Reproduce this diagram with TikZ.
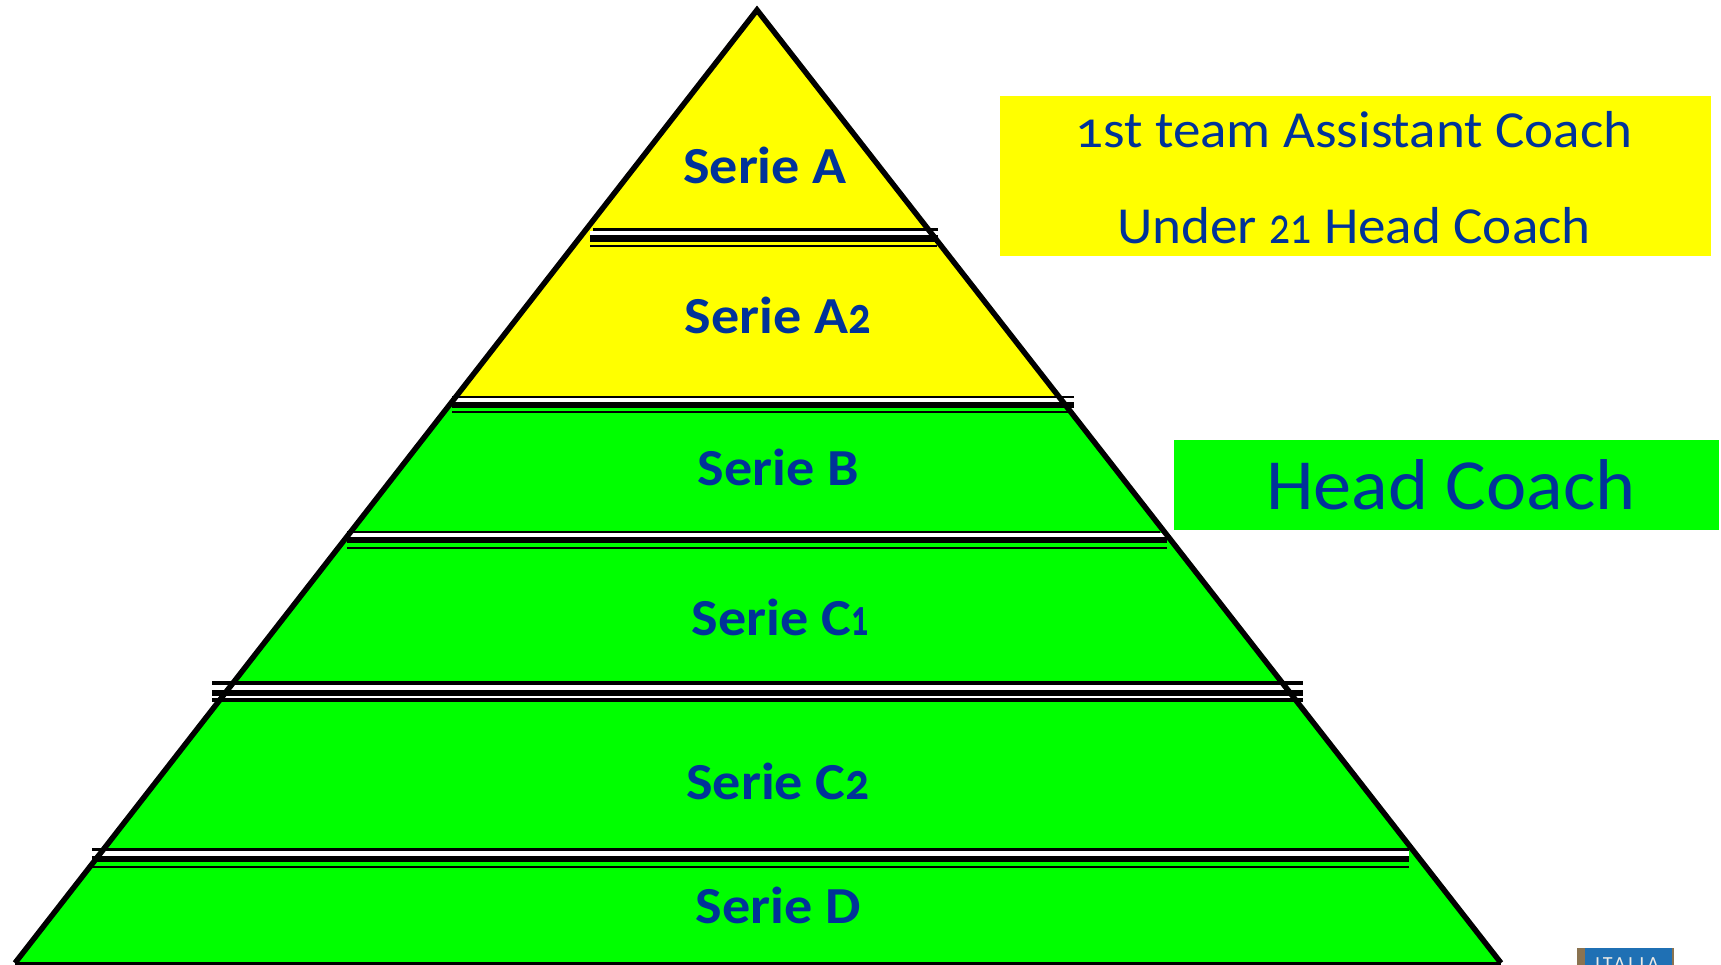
\documentclass[tikz,border=0pt]{standalone}
\usepackage{fontspec}
\setmainfont[Numbers=OldStyle]{Carlito}
\newfontfamily\seriefont[Numbers=OldStyle,FakeStretch=1.08]{Carlito}
\newfontfamily\rolefont[Numbers=OldStyle,FakeStretch=1.06]{Carlito}
\newfontfamily\signfont[LetterSpace=14]{Carlito}
\definecolor{tblue}{HTML}{003399}
\definecolor{pyellow}{HTML}{FFFF00}
\definecolor{pgreen}{HTML}{00FF00}
\definecolor{signblue}{HTML}{1F70B4}
\definecolor{signbrown}{HTML}{8A7350}
\tikzset{
  serie/.style={text=tblue,font=\seriefont\fontsize{52}{52}\selectfont\bfseries,inner sep=0pt,anchor=base},
  rolebox/.style={inner sep=0pt,anchor=north west},
  roletext/.style={text=tblue,inner sep=0pt,anchor=base},
  rule/.style={draw=black,line cap=butt},
}
\begin{document}
\begin{tikzpicture}[x=1pt,y=-1pt]
\useasboundingbox (0,0) rectangle (1721,965);
\fill[white] (0,0) rectangle (1721,965);
% pyramid fill
\begin{scope}
  \clip (757,10) -- (1501,963) -- (15,963) -- cycle;
  \fill[pyellow] (0,0) rectangle (1721,404);
  \fill[pgreen] (0,404) rectangle (1721,965);
\end{scope}
% white gaps
\fill[white] (590,231) rectangle (937,236);
\fill[white] (452,398) rectangle (1066,402);
\fill[white] (347,533) rectangle (1167,538);
\fill[white] (212,685) rectangle (1303,691);
\fill[white] (212,695) rectangle (1303,698);
\fill[white] (92,851) rectangle (1409,856);
% bands
\draw[rule,line width=3.5pt] (593,229.5) -- (938,229.5);
\draw[rule,line width=6.5pt] (590,238.5) -- (938,238.5);
\draw[rule,line width=2.5pt] (590,246) -- (937,246);
\draw[rule,line width=2.5pt] (452,397) -- (1074,397);
\draw[rule,line width=6.5pt] (452,405) -- (1074,405);
\draw[rule,line width=2.5pt] (452,412) -- (1068,412);
\draw[rule,line width=2.5pt] (347,532) -- (1160,532);
\draw[rule,line width=6pt] (347,540) -- (1167,540);
\draw[rule,line width=2.5pt] (347,548) -- (1167,548);
\draw[rule,line width=4.5pt] (212,683) -- (1303,683);
\draw[rule,line width=6pt] (212,692.5) -- (1303,692.5);
\draw[rule,line width=4.5pt] (212,700) -- (1303,700);
\draw[rule,line width=3.5pt] (92,849.5) -- (1409,849.5);
\draw[rule,line width=6pt] (92,858.5) -- (1409,858.5);
\draw[rule,line width=2.5pt] (92,867) -- (1409,867);
% pyramid outline
\draw[line width=5.5pt,line join=miter] (15,963) -- (757,10) -- (1501,963);
\draw[line width=3.5pt] (15,963.5) -- (1501,963.5);
% labels
\node[serie] (sa)  at (765,183.5) {Serie A};
\node[serie] (sa2) at (778,333.5) {Serie A\scalebox{.8}[1]{2}};
\node[serie] (sb)  at (778,485.5) {Serie B};
\node[serie] (sc1) at (780,635.5) {Serie C\scalebox{.6}[1]{1}};
\node[serie] (sc2) at (778,799.5) {Serie C\scalebox{.85}[1]{2}};
\node[serie] (sd)  at (778,923.5) {Serie D};
% role boxes
\node[rolebox,fill=pyellow,minimum width=711pt,minimum height=160pt] (ybox) at (1000,96) {};
\node[rolebox,fill=pgreen,minimum width=545pt,minimum height=90pt] (gbox) at (1174,440) {};
\node[roletext,font=\rolefont\fontsize{52}{52}\selectfont] (y1) at (1354,148) {1st team Assistant Coach};
\node[roletext,font=\rolefont\fontsize{52}{52}\selectfont] (y2) at (1354,244) {Under \scalebox{.75}[1]{21} Head Coach};
\node[roletext,font=\rolefont\fontsize{72}{72}\selectfont] (g1) at (1451,509) {Head Coach};
% sign fragment
\fill[signbrown] (1577,948) rectangle (1674,965);
\fill[signblue] (1585,948) rectangle (1672,965);
\node[text=white!85!signbrown,font=\signfont\fontsize{20}{20}\selectfont,inner sep=0pt,anchor=base] (it) at (1627,970) {ITALIA};
\end{tikzpicture}
\end{document}
